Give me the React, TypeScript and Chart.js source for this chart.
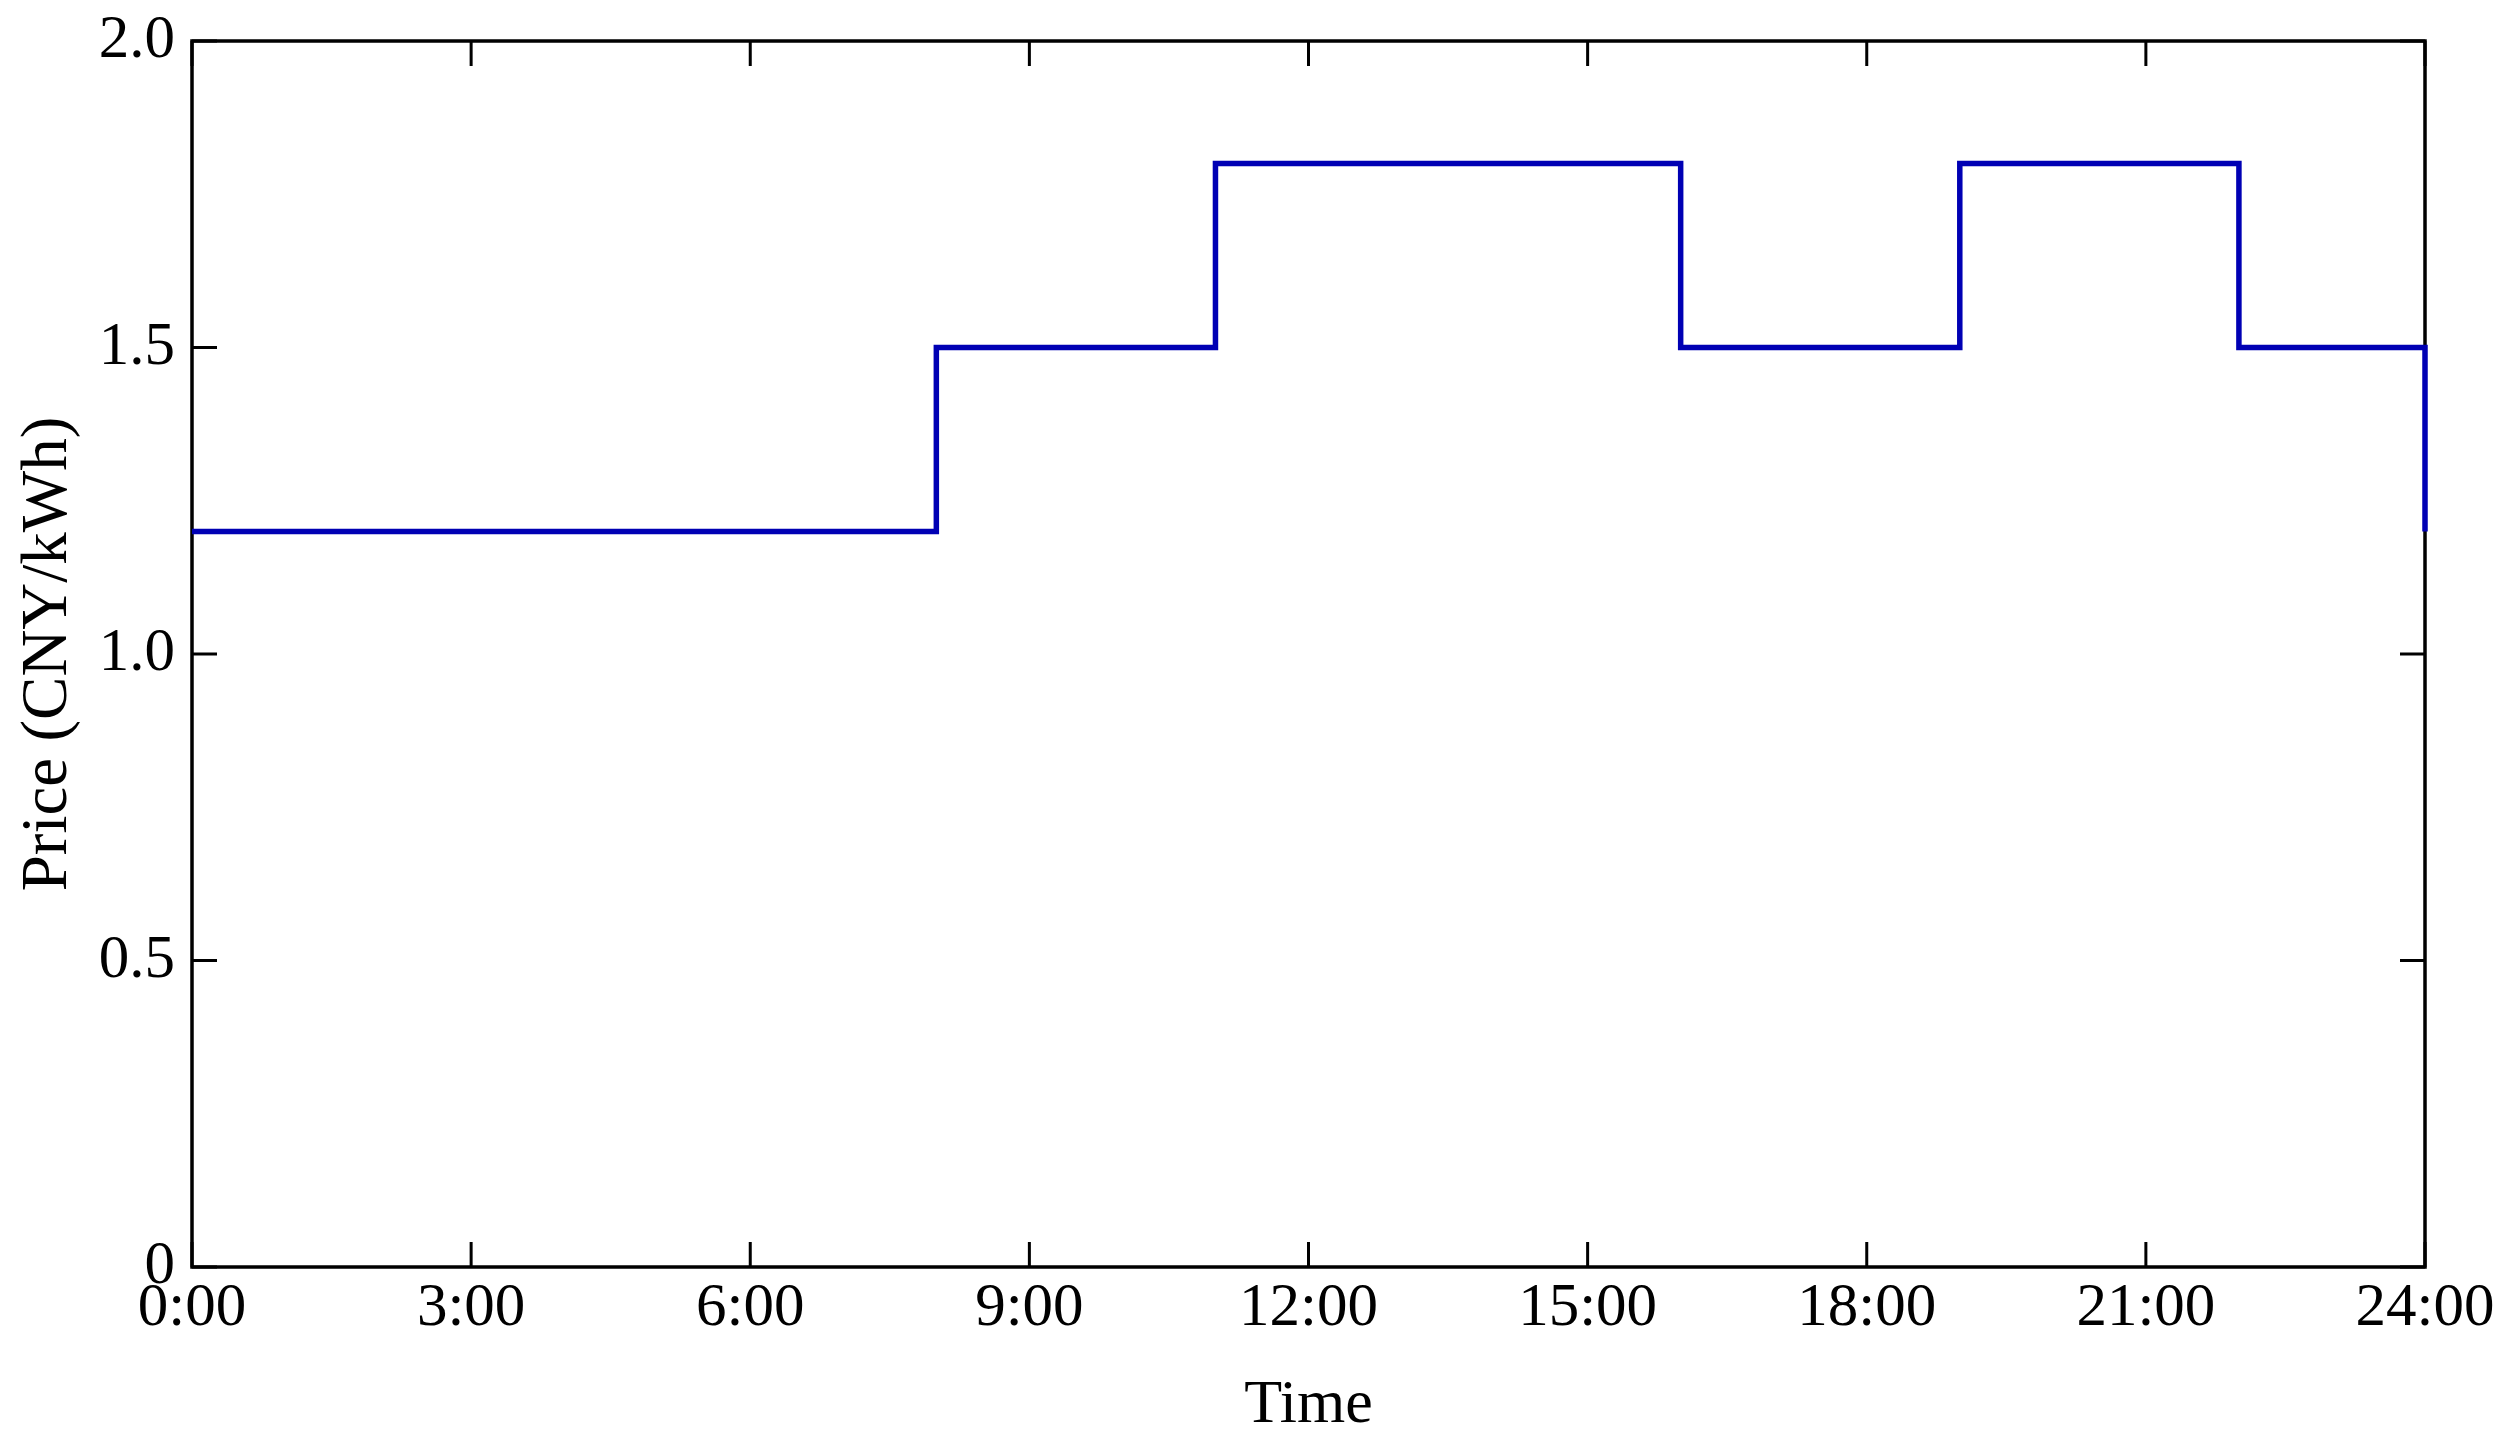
import React, { useEffect, useRef } from "react";
import { Chart, registerables } from "chart.js";

Chart.register(...registerables);

// Tariff breakpoints (hour of day) and the price that starts at each one
const breakHours: number[] = [0, 8, 11, 16, 19, 22, 24];
const prices: number[] = [1.2, 1.5, 1.8, 1.5, 1.8, 1.5, 1.2];

const xTickHours: number[] = [0, 3, 6, 9, 12, 15, 18, 21, 24];
const yTickValues: number[] = [0, 0.5, 1.0, 1.5, 2.0];

const xTitle = "Time";
const yTitle = "Price (CNY/kWh)";

const W = 2511;
const H = 1452;
const FONT = "'Liberation Serif', 'Times New Roman', serif";

const framePlugin = {
  id: "frameTicks",
  beforeDatasetsDraw(chart: any) {
    const { ctx, chartArea } = chart;
    const { left, right, top, bottom } = chartArea;
    const xs = chart.scales.x;
    const ys = chart.scales.y;
    const tl = 25;
    ctx.save();
    ctx.strokeStyle = "#000";
    ctx.lineWidth = 3;
    ctx.beginPath();
    for (const h of xTickHours) {
      const px = xs.getPixelForValue(h);
      ctx.moveTo(px, bottom);
      ctx.lineTo(px, bottom - tl);
      ctx.moveTo(px, top);
      ctx.lineTo(px, top + tl);
    }
    for (const v of yTickValues) {
      const py = ys.getPixelForValue(v);
      ctx.moveTo(left, py);
      ctx.lineTo(left + tl, py);
      ctx.moveTo(right, py);
      ctx.lineTo(right - tl, py);
    }
    ctx.stroke();
    ctx.lineWidth = 3.5;
    ctx.strokeRect(left, top, right - left, bottom - top);
    ctx.restore();
  },
};

export default function App() {
  const ref = useRef<HTMLCanvasElement | null>(null);

  useEffect(() => {
    const canvas = ref.current;
    if (!canvas) return;
    const chart = new Chart(canvas, {
      type: "line",
      data: {
        datasets: [
          {
            data: breakHours.map((h, i) => ({ x: h, y: prices[i] })),
            borderColor: "rgb(0,0,180)",
            borderWidth: 5.5,
            stepped: "before",
            pointRadius: 0,
            fill: false,
            clip: false,
          } as any,
        ],
      },
      options: {
        responsive: false,
        animation: false,
        devicePixelRatio: 1,
        layout: { padding: { top: 41, right: 86, left: 0, bottom: 0 } },
        plugins: {
          legend: { display: false },
          tooltip: { enabled: false },
        },
        scales: {
          x: {
            type: "linear",
            min: 0,
            max: 24,
            afterFit: (s: any) => {
              s.height = 185;
              s.paddingLeft = 0;
              s.paddingRight = 0;
            },
            afterBuildTicks: (s: any) => {
              s.ticks = xTickHours.map((v) => ({ value: v }));
            },
            grid: { display: false, drawTicks: false },
            border: { display: false },
            ticks: {
              autoSkip: false,
              maxRotation: 0,
              padding: 5,
              color: "#000",
              font: { family: FONT, size: 61 },
              callback: (v: any) => `${v}:00`,
            },
            title: {
              display: true,
              text: xTitle,
              color: "#000",
              font: { family: FONT, size: 62 },
              padding: { top: 0, bottom: 9 },
            },
          },
          y: {
            type: "linear",
            min: 0,
            max: 2,
            afterFit: (s: any) => {
              s.width = 192;
              s.paddingTop = 0;
              s.paddingBottom = 0;
            },
            afterBuildTicks: (s: any) => {
              s.ticks = yTickValues.map((v) => ({ value: v }));
            },
            grid: { display: false, drawTicks: false },
            border: { display: false },
            ticks: {
              padding: 17,
              color: "#000",
              font: { family: FONT, size: 61 },
              callback: (v: any) => (Number(v) === 0 ? "0" : Number(v).toFixed(1)),
            },
            title: {
              display: true,
              text: yTitle,
              color: "#000",
              font: { family: FONT, size: 65 },
              padding: { top: 10, bottom: 0 },
            },
          },
        },
      },
      plugins: [framePlugin],
    } as any);
    return () => chart.destroy();
  }, []);

  return (
    <div style={{ position: "absolute", left: 0, top: 0, width: W, height: H, background: "#fff" }}>
      <canvas ref={ref} width={W} height={H} style={{ display: "block", width: W, height: H }} />
    </div>
  );
}
